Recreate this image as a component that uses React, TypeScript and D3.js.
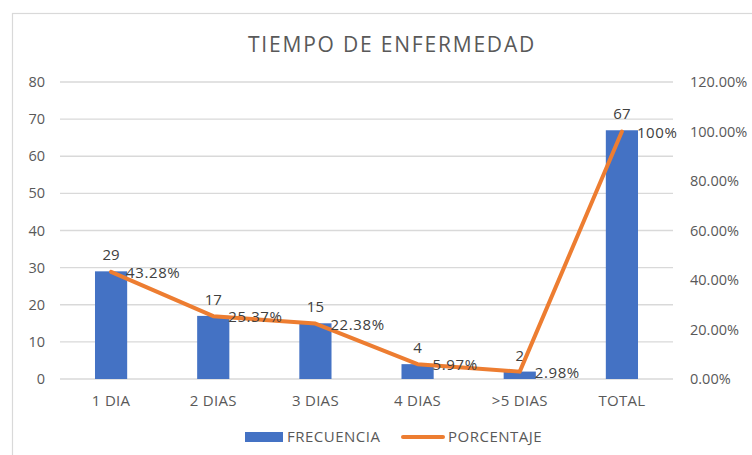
import React from "react";
import * as d3 from "d3";

const categories = ["1 DIA", "2 DIAS", "3 DIAS", "4 DIAS", ">5 DIAS", "TOTAL"];
const frecuencia = [29, 17, 15, 4, 2, 67];
const porcentaje = [0.4328, 0.2537, 0.2238, 0.0597, 0.0298, 1.0];
const porcentajeLabels = ["43.28%", "25.37%", "22.38%", "5.97%", "2.98%", "100%"];
const leftTicks = [0, 10, 20, 30, 40, 50, 60, 70, 80];
const rightTicks = [0, 0.2, 0.4, 0.6, 0.8, 1.0, 1.2];

const W = 752, H = 455;
const FONT = "'Open Sans', sans-serif";
const GREY = "#595959";

export default function App() {
  const x = d3.scaleBand<string>().domain(categories).range([60, 673]);
  const yL = d3.scaleLinear().domain([0, 80]).range([379, 82]);
  const yR = d3.scaleLinear().domain([0, 1.2]).range([379, 82]);
  const barW = x.bandwidth() * 0.315;
  const cx = (c: string) => (x(c) as number) + x.bandwidth() / 2;
  const line = d3
    .line<number>()
    .x((_, i) => cx(categories[i]))
    .y((d) => yR(d));

  return (
    <svg width={W} height={H} style={{ position: "absolute", left: 0, top: 0, background: "#fff" }} fontFamily={FONT}>
      <rect x={0} y={0} width={W} height={H} fill="#fff" />
      <rect x={12.5} y={13.5} width={W} height={H} fill="none" stroke="#d9d9d9" strokeWidth={1.2} />
      <text x={392} y={52} textAnchor="middle" fontSize={21} letterSpacing={1.8} fill={GREY}>
        TIEMPO DE ENFERMEDAD
      </text>
      {leftTicks.map((t) => (
        <g key={t}>
          <line x1={60} x2={673} y1={yL(t)} y2={yL(t)} stroke="#d9d9d9" strokeWidth={1.3} />
          <text x={45} y={yL(t)} dy="0.35em" textAnchor="end" fontSize={14.5} fill={GREY}>
            {t}
          </text>
        </g>
      ))}
      {rightTicks.map((t) => (
        <text key={t} x={690} y={yR(t)} dy="0.35em" textAnchor="start" fontSize={14.5} fill={GREY}>
          {d3.format(".2%")(t)}
        </text>
      ))}
      {categories.map((c, i) => (
        <g key={c}>
          <rect x={cx(c) - barW / 2} y={yL(frecuencia[i])} width={barW} height={yL(0) - yL(frecuencia[i])} fill="#4472C4" />
          <text x={cx(c)} y={yL(0) + 22} dy="0.35em" textAnchor="middle" fontSize={15} letterSpacing={0.3} fill={GREY}>
            {c}
          </text>
          <text x={cx(c)} y={yL(frecuencia[i]) - 11} textAnchor="middle" fontSize={15} fill="#404040">
            {frecuencia[i]}
          </text>
        </g>
      ))}
      <path d={line(porcentaje) || ""} fill="none" stroke="#ED7D31" strokeWidth={4} strokeLinejoin="round" strokeLinecap="round" />
      {categories.map((c, i) => (
        <text key={"p" + c} x={cx(c) + 15} y={yR(porcentaje[i]) + 1} dy="0.35em" textAnchor="start" fontSize={15} letterSpacing={0.6} fill="#404040">
          {porcentajeLabels[i]}
        </text>
      ))}
      <rect x={245} y={432} width={38} height={10} fill="#4472C4" />
      <text x={287} y={437} dy="0.35em" fontSize={15} letterSpacing={0.5} fill={GREY}>FRECUENCIA</text>
      <line x1={403} x2={443} y1={437} y2={437} stroke="#ED7D31" strokeWidth={4} strokeLinecap="round" />
      <text x={448} y={437} dy="0.35em" fontSize={15} letterSpacing={0.5} fill={GREY}>PORCENTAJE</text>
    </svg>
  );
}
